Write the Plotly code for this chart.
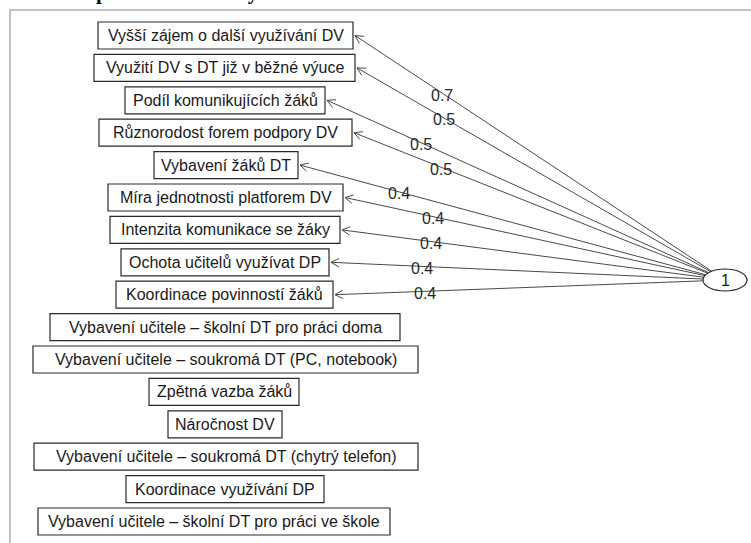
import math
import plotly.graph_objects as go

# ---------------- data ----------------
items = [
    "Vyšší zájem o další využívání DV",
    "Využití DV s DT již v běžné výuce",
    "Podíl komunikujících žáků",
    "Různorodost forem podpory DV",
    "Vybavení žáků DT",
    "Míra jednotnosti platforem DV",
    "Intenzita komunikace se žáky",
    "Ochota učitelů využívat DP",
    "Koordinace povinností žáků",
    "Vybavení učitele – školní DT pro práci doma",
    "Vybavení učitele – soukromá DT (PC, notebook)",
    "Zpětná vazba žáků",
    "Náročnost DV",
    "Vybavení učitele – soukromá DT (chytrý telefon)",
    "Koordinace využívání DP",
    "Vybavení učitele – školní DT pro práci ve škole",
]
loadings = [0.7, 0.5, 0.5, 0.5, 0.4, 0.4, 0.4, 0.4, 0.4,
            None, None, None, None, None, None, None]
factor_label = "1"
title_text = "Model 1 – proměnné faktory"

# ---------------- layout constants (pixels) ----------------
W, H = 751, 543
ROW0, ROW_STEP, BOX_H = 35.5, 32.4, 27
BOX_LEFT = [98, 94, 125, 99, 154, 108, 110, 121, 116, 50, 33, 149, 168, 34, 126, 38]
BOX_RIGHT = [353, 355, 325, 352, 298, 343, 340, 329, 333, 400, 418, 299, 282, 418, 324, 390]
ELL_CX, ELL_CY, ELL_RX, ELL_RY = 725, 280, 22, 11
LABEL_POS = 0.755
ARROW_LEN, ARROW_ANG = 9, math.radians(28)
EDGE_COLOR = "#4a4a4a"
FONT = "Liberation Sans, Arial, sans-serif"

fig = go.Figure()
shapes = []
annotations = []

# outer frame
shapes.append(dict(type="rect", xref="x", yref="y", x0=10, y0=10, x1=W + 20, y1=H + 20,
                   line=dict(color="#c4c4c4", width=2), fillcolor="rgba(0,0,0,0)", layer="below"))

# boxes and texts
for i, name in enumerate(items):
    yc = ROW0 + ROW_STEP * i
    shapes.append(dict(type="rect", xref="x", yref="y",
                       x0=BOX_LEFT[i], x1=BOX_RIGHT[i], y0=yc - BOX_H / 2, y1=yc + BOX_H / 2,
                       line=dict(color="#2a2a2a", width=1.2), fillcolor="white"))
    annotations.append(dict(x=(BOX_LEFT[i] + BOX_RIGHT[i]) / 2, y=yc, xref="x", yref="y",
                            text=name, showarrow=False, xanchor="center", yanchor="middle",
                            font=dict(family=FONT, size=16, color="#1a1a1a")))

# factor ellipse
shapes.append(dict(type="circle", xref="x", yref="y",
                   x0=ELL_CX - ELL_RX, x1=ELL_CX + ELL_RX,
                   y0=ELL_CY - ELL_RY, y1=ELL_CY + ELL_RY,
                   line=dict(color="#2a2a2a", width=1.2), fillcolor="white"))
annotations.append(dict(x=ELL_CX, y=ELL_CY, xref="x", yref="y", text=factor_label,
                        showarrow=False, font=dict(family=FONT, size=16, color="#1a1a1a")))

# edges
ex, ey = [], []
for i, val in enumerate(loadings):
    if val is None:
        continue
    yc = ROW0 + ROW_STEP * i
    tx, ty = BOX_RIGHT[i] + 2, yc
    dx, dy = tx - ELL_CX, ty - ELL_CY
    t = 1 / math.sqrt((dx / ELL_RX) ** 2 + (dy / ELL_RY) ** 2)
    sx, sy = ELL_CX + t * dx, ELL_CY + t * dy
    ex += [sx, tx, None]
    ey += [sy, ty, None]
    # open arrow head
    ang = math.atan2(sy - ty, sx - tx)
    for s in (-1, 1):
        a = ang + s * ARROW_ANG
        ex += [tx, tx + ARROW_LEN * math.cos(a), None]
        ey += [ty, ty + ARROW_LEN * math.sin(a), None]
    lx = sx + LABEL_POS * (tx - sx)
    ly = sy + LABEL_POS * (ty - sy) + 2
    annotations.append(dict(x=lx, y=ly, xref="x", yref="y", text=f"{val:.1f}",
                            showarrow=False, font=dict(family=FONT, size=16, color="#2a2a2a")))

fig.add_trace(go.Scatter(x=ex, y=ey, mode="lines", line=dict(color=EDGE_COLOR, width=1),
                         hoverinfo="skip", showlegend=False))

# truncated title at top (only its lower part is visible, as in the source image)
annotations.append(dict(x=0, y=1 - 6 / H, xref="paper", yref="paper", text=title_text,
                        showarrow=False, xanchor="left", yanchor="bottom",
                        font=dict(family="Liberation Serif, Times New Roman, serif", size=21,
                                  color="black", weight="bold")))

fig.update_layout(
    width=W, height=H,
    margin=dict(l=0, r=0, t=0, b=0),
    paper_bgcolor="white", plot_bgcolor="white",
    xaxis=dict(range=[0, W], visible=False, fixedrange=True),
    yaxis=dict(range=[H, 0], visible=False, fixedrange=True),
    shapes=shapes, annotations=annotations, showlegend=False,
)

fig.write_html("out.html", config={"displayModeBar": False},
               post_script="document.body.style.margin='0';")
